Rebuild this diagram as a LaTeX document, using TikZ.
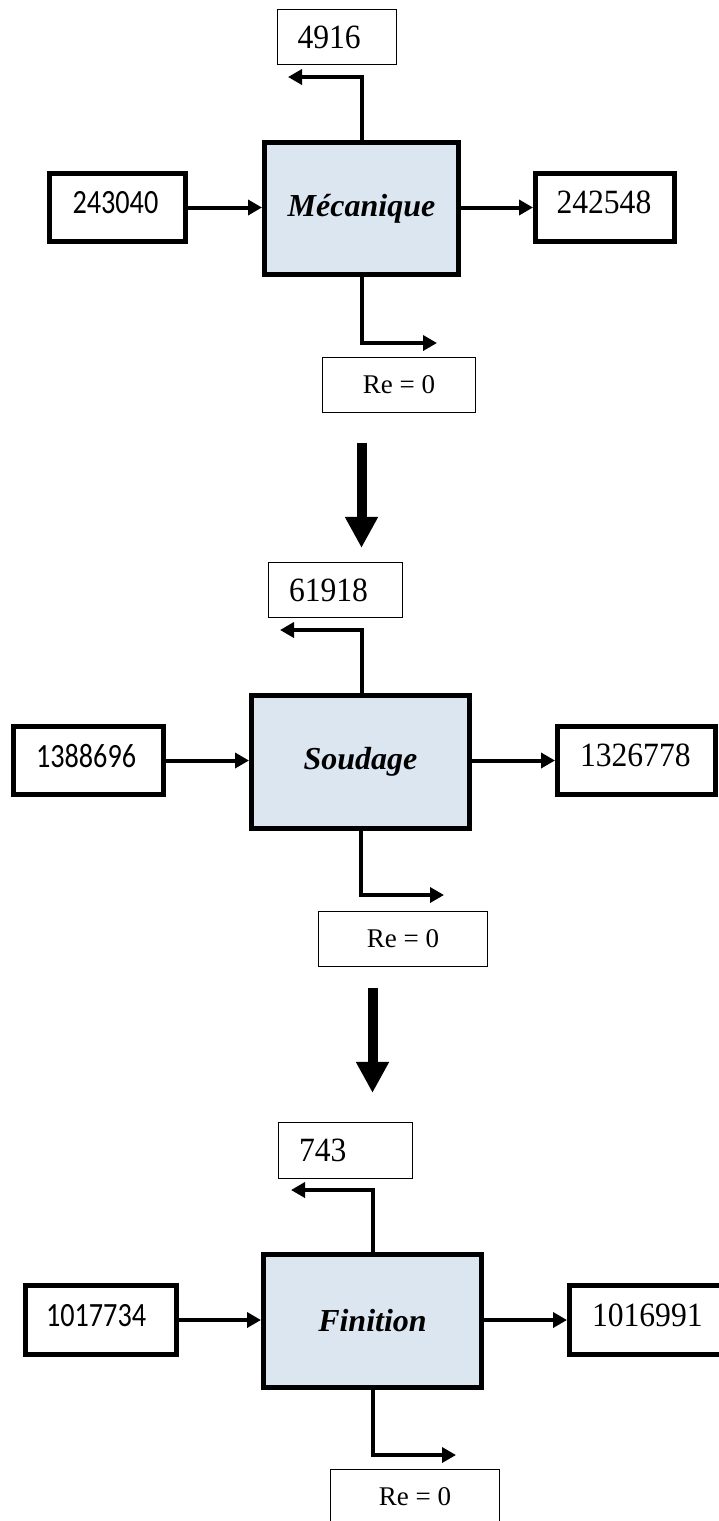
\documentclass[tikz,border=0pt]{standalone}
\usepackage{fontspec}
\setmainfont{Liberation Serif}
\newfontfamily\sansnum{Carlito}[FakeStretch=0.83]
\newfontfamily\sernum{Liberation Serif}[FakeStretch=0.93]
\usetikzlibrary{arrows.meta}
\definecolor{procfill}{HTML}{DCE6F1}
\tikzset{
  procbox/.style={draw, line width=5pt, fill=procfill, inner sep=0pt,
    font=\fontsize{32}{38}\selectfont\bfseries\itshape},
  flowbox/.style={draw, line width=5pt, fill=white, align=left, inner ysep=0pt,
    text depth=10pt, font=\fontsize{34}{40}\selectfont\sernum},
  topbox/.style={draw, line width=1.2pt, fill=white, align=left, inner ysep=0pt,
    font=\fontsize{34}{40}\selectfont\sernum},
  rebox/.style={draw, line width=1.2pt, fill=white, inner sep=0pt,
    font=\fontsize{27}{32}\selectfont},
  conn/.style={line width=4pt, line join=miter, -{Triangle[length=14pt,width=15pt]}},
  bigarrow/.style={line width=10pt, -{Triangle[length=31pt,width=31pt]}}
}
\begin{document}
\begin{tikzpicture}[x=1pt,y=-1pt]
\clip (0,0) rectangle (719,1521);
\fill[white] (0,0) rectangle (719,1521);

% ---------- Mecanique ----------
\node[procbox, minimum width=194pt, minimum height=132pt] (M1) at (361.5,208.5) {Mécanique};
\node[topbox, minimum width=119pt, minimum height=55pt, inner xsep=20pt, text width=79pt] (T1) at (337,37) {4916};
\node[flowbox, minimum width=136pt, minimum height=68pt, inner xsep=23pt, text width=90pt] (L1) at (117.5,207.5) {\sansnum 243040};
\node[flowbox, minimum width=139pt, minimum height=68pt, inner xsep=21pt, text width=97pt] (R1) at (605,207.5) {242548};
\node[rebox, minimum width=153pt, minimum height=55pt] (B1) at (399,385) {Re = 0};

\coordinate (u1) at (361.5,77);
\coordinate (u1e) at (288,77);
\coordinate (d1) at (361.5,343);
\coordinate (d1e) at (437,343);
\draw[conn] (L1.east) -- (L1.east -| M1.west);
\draw[conn] (M1.east |- R1.west) -- (R1.west);
\draw[conn] (M1.north) -- (u1) -- (u1e);
\draw[conn] (M1.south) -- (d1) -- (d1e);

% ---------- Soudage ----------
\node[procbox, minimum width=218pt, minimum height=133pt] (M2) at (360.5,762) {Soudage};
\node[topbox, minimum width=134pt, minimum height=55pt, inner xsep=20.5pt, text width=93pt] (T2) at (335.5,590) {61918};
\node[flowbox, minimum width=150pt, minimum height=68pt, inner xsep=22.5pt, text width=105pt] (L2) at (88.5,760.5) {\sansnum 1388696};
\node[flowbox, minimum width=158pt, minimum height=68pt, inner xsep=22.5pt, text width=113pt] (R2) at (636.5,760.5) {1326778};
\node[rebox, minimum width=169pt, minimum height=55pt] (B2) at (403,939) {Re = 0};

\coordinate (u2) at (361.5,630);
\coordinate (u2e) at (280,630);
\coordinate (d2) at (360.5,895);
\coordinate (d2e) at (444,895);
\draw[conn] (L2.east) -- (L2.east -| M2.west);
\draw[conn] (M2.east |- R2.west) -- (R2.west);
\draw[conn] (M2.north -| u2) -- (u2) -- (u2e);
\draw[conn] (M2.south) -- (d2) -- (d2e);

\draw[bigarrow, shorten <=30pt, shorten >=14pt] (B1.south -| M1.center) -- (T2.north -| M1.center);

% ---------- Finition ----------
\node[procbox, minimum width=218pt, minimum height=133pt] (M3) at (372.5,1321) {Finition};
\node[topbox, minimum width=134pt, minimum height=56pt, inner xsep=20.5pt, text width=93pt] (T3) at (345.5,1150.5) {743};
\node[flowbox, minimum width=151pt, minimum height=69pt, inner xsep=20.5pt, text width=110pt] (L3) at (101,1320) {\sansnum 1017734};
\node[flowbox, minimum width=173pt, minimum height=69pt, inner xsep=22.5pt, text width=128pt] (R3) at (656,1320) {1016991};
\node[rebox, minimum width=169pt, minimum height=55pt] (B3) at (415,1497) {Re = 0};

\coordinate (u3) at (372.5,1190);
\coordinate (u3e) at (291,1190);
\coordinate (d3) at (372.5,1455);
\coordinate (d3e) at (456,1455);
\draw[conn] (L3.east) -- (L3.east -| M3.west);
\draw[conn] (M3.east |- R3.west) -- (R3.west);
\draw[conn] (M3.north) -- (u3) -- (u3e);
\draw[conn] (M3.south) -- (d3) -- (d3e);

\draw[bigarrow, shorten <=21pt, shorten >=29pt] (B2.south -| M3.center) -- (T3.north -| M3.center);
\end{tikzpicture}
\end{document}
